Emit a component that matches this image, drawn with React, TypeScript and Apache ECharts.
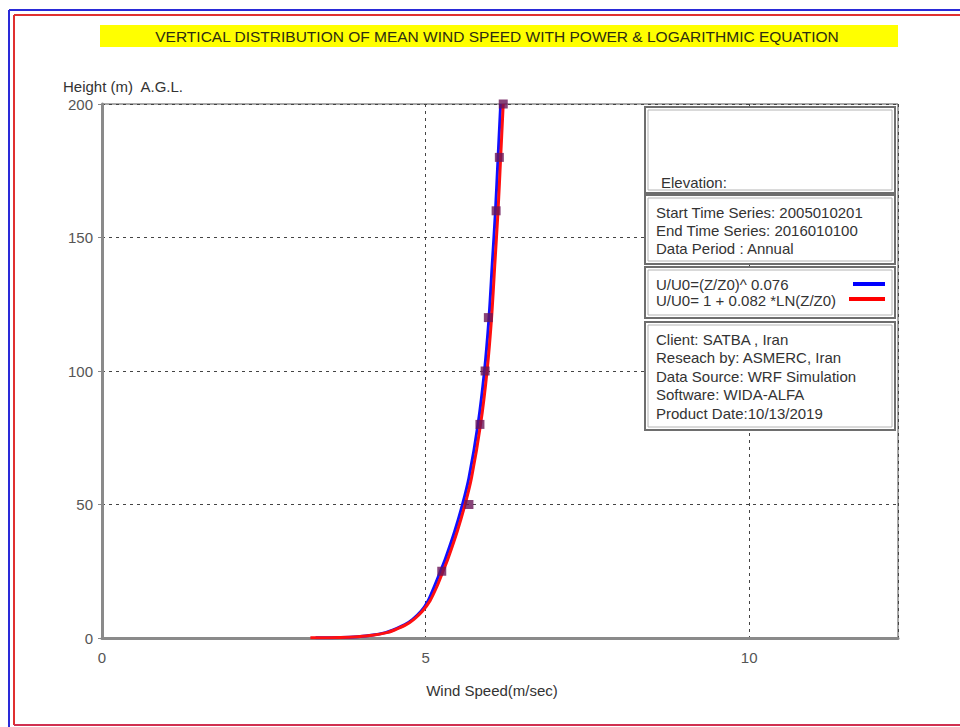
import React, { useEffect, useRef } from "react";
import * as echarts from "echarts";

const heights = [0.05, 0.2, 0.5, 1, 2, 3, 5, 7, 10, 14, 19, 25, 30, 40, 50, 60, 80, 100, 120, 140, 160, 180, 200];
const powerSpeeds = [3.3, 3.7, 3.95, 4.16, 4.38, 4.5, 4.68, 4.8, 4.93, 5.04, 5.13, 5.23, 5.31, 5.45, 5.57, 5.67, 5.81, 5.91, 5.98, 6.03, 6.08, 6.12, 6.16];
const logSpeeds = [3.22, 3.68, 3.95, 4.18, 4.4, 4.52, 4.7, 4.82, 4.95, 5.07, 5.17, 5.27, 5.35, 5.49, 5.61, 5.71, 5.85, 5.95, 6.02, 6.07, 6.12, 6.16, 6.2];
const measuredHeights = [25, 50, 80, 100, 120, 160, 180, 200];
const measuredSpeeds = [5.25, 5.67, 5.84, 5.92, 5.97, 6.09, 6.14, 6.2];

const titleText = "VERTICAL DISTRIBUTION OF MEAN WIND SPEED WITH POWER & LOGARITHMIC EQUATION";
const yAxisTitle = "Height (m)  A.G.L.";
const xAxisTitle = "Wind Speed(m/sec)";
const box1Lines = ["Elevation:"];
const box2Lines = ["Start Time Series: 2005010201", "End Time Series: 2016010100", "Data Period : Annual"];
const legendLines = ["U/U0=(Z/Z0)^ 0.076", "U/U0= 1 + 0.082 *LN(Z/Z0)"];
const box4Lines = ["Client: SATBA , Iran", "Reseach by: ASMERC, Iran", "Data Source: WRF Simulation", "Software: WIDA-ALFA", "Product Date:10/13/2019"];

const FONT = '"Liberation Sans", Arial, sans-serif';

function boxRects(x: number, y: number, w: number, h: number) {
  return [
    { type: "rect", shape: { x, y, width: w, height: h }, style: { fill: "#ffffff", stroke: "#6e6e6e", lineWidth: 2 }, z: 10 },
    { type: "rect", shape: { x: x + 3, y: y + 3, width: w - 6, height: h - 6 }, style: { fill: "none", stroke: "#b4b4b4", lineWidth: 1 }, z: 11 },
  ];
}

function textEl(text: string, x: number, y: number, opts: any = {}) {
  return {
    type: "text",
    x,
    y,
    z: 12,
    style: {
      text,
      fill: opts.fill || "#333333",
      font: `${opts.weight || "normal"} ${opts.size || 15}px ${FONT}`,
      textAlign: opts.align || "left",
      textVerticalAlign: "middle",
    },
  };
}

export default function App() {
  const ref = useRef<HTMLDivElement>(null);
  useEffect(() => {
    if (!ref.current) return;
    const chart = echarts.init(ref.current, undefined, { renderer: "svg" });
    const graphics: any[] = [
      { type: "line", shape: { x1: 9, y1: 10, x2: 960, y2: 10 }, style: { stroke: "#2a2ad8", lineWidth: 2 } },
      { type: "line", shape: { x1: 9, y1: 10, x2: 9, y2: 727 }, style: { stroke: "#2a2ad8", lineWidth: 2 } },
      { type: "line", shape: { x1: 14, y1: 15, x2: 960, y2: 15 }, style: { stroke: "#e03030", lineWidth: 2 } },
      { type: "line", shape: { x1: 14, y1: 15, x2: 14, y2: 725 }, style: { stroke: "#e03030", lineWidth: 2 } },
      { type: "line", shape: { x1: 14, y1: 725, x2: 960, y2: 725 }, style: { stroke: "#d03050", lineWidth: 2 } },
      { type: "rect", shape: { x: 100, y: 25, width: 798, height: 22 }, style: { fill: "#ffff00" } },
      textEl(titleText, 497, 36, { align: "center", fill: "#2e2e10", size: 15.5 }),
      textEl(yAxisTitle, 63, 86, { fill: "#333333" }),
      textEl(xAxisTitle, 492, 690, { align: "center", fill: "#333333" }),
      ...boxRects(645, 107, 250, 86),
      textEl(box1Lines[0], 661, 182),
      ...boxRects(645, 195, 250, 69),
      ...box2Lines.map((t, i) => textEl(t, 656, 212 + i * 18)),
      ...boxRects(645, 267, 250, 51),
      ...legendLines.map((t, i) => textEl(t, 656, 284 + i * 16)),
      { type: "line", z: 12, shape: { x1: 853, y1: 284, x2: 885, y2: 284 }, style: { stroke: "#0000ff", lineWidth: 4 } },
      { type: "line", z: 12, shape: { x1: 849, y1: 299, x2: 885, y2: 299 }, style: { stroke: "#ff0000", lineWidth: 4 } },
      ...boxRects(645, 322, 250, 108),
      ...box4Lines.map((t, i) => textEl(t, 656, 339 + i * 18.5)),
    ];

    chart.setOption({
      animation: false,
      backgroundColor: "#ffffff",
      grid: {
        left: 102,
        right: 62,
        top: 104,
        bottom: 89,
        show: true,
        borderColor: "#555555",
        borderWidth: 1,
        backgroundColor: "transparent",
      },
      xAxis: {
        type: "value",
        min: 0,
        max: 12.3,
        interval: 5,
        axisLine: { show: true, lineStyle: { color: "#8a8a8a", width: 3 } },
        axisTick: { show: false },
        axisLabel: {
          color: "#555555",
          fontSize: 15,
          fontFamily: FONT,
          margin: 12,
          showMaxLabel: false,
          formatter: (v: number) => (v % 5 === 0 ? String(v) : ""),
        },
        splitLine: { show: true, lineStyle: { color: "#444444", type: [3, 4], width: 1 } },
      },
      yAxis: {
        type: "value",
        min: 0,
        max: 200,
        interval: 50,
        axisLine: { show: true, lineStyle: { color: "#8a8a8a", width: 3 } },
        axisTick: { show: true, length: 4, lineStyle: { color: "#888888" } },
        axisLabel: { color: "#555555", fontSize: 15, fontFamily: FONT, margin: 9 },
        splitLine: { show: true, lineStyle: { color: "#444444", type: [3, 4], width: 1 } },
      },
      series: [
        {
          type: "line",
          name: "power",
          data: heights.map((h, i) => [powerSpeeds[i], h]),
          smooth: 0.3,
          showSymbol: false,
          lineStyle: { color: "#1010ff", width: 3 },
          z: 3,
        },
        {
          type: "line",
          name: "log",
          data: heights.map((h, i) => [logSpeeds[i], h]),
          smooth: 0.3,
          showSymbol: false,
          lineStyle: { color: "#ff1010", width: 3 },
          z: 4,
        },
        {
          type: "scatter",
          name: "measured",
          data: measuredHeights.map((h, i) => [measuredSpeeds[i], h]),
          symbol: "rect",
          symbolSize: 9,
          itemStyle: { color: "#6a1558" },
          z: 5,
        },
      ],
      graphic: graphics,
    });
    return () => chart.dispose();
  }, []);
  return <div ref={ref} style={{ position: "fixed", left: 0, top: 0, width: 960, height: 727 }} />;
}
